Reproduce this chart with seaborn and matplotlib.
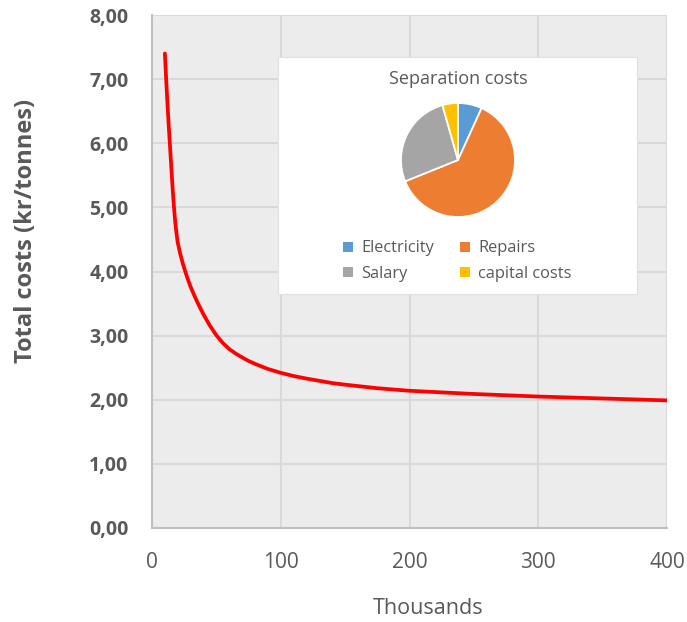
import matplotlib
matplotlib.use("Agg")
import matplotlib.pyplot as plt
from matplotlib.patches import Patch, Rectangle
import seaborn as sns
import pandas as pd

# Total cost per tonne versus throughput (thousands of tonnes)
throughput = [10, 11, 12, 13, 14, 15, 16, 17, 18, 19, 20, 22, 24, 26, 28, 30,
              33, 36, 40, 45, 50, 55, 60, 65, 70, 75, 80, 90, 100, 110, 120,
              130, 140, 150, 175, 200, 250, 300, 350, 400]
total_cost = [7.40, 7.00, 6.62, 6.27, 5.95, 5.62, 5.30, 5.02, 4.78, 4.60, 4.45,
              4.27, 4.12, 3.99, 3.87, 3.76, 3.62, 3.49, 3.33, 3.155, 3.005,
              2.885, 2.79, 2.72, 2.66, 2.605, 2.56, 2.48, 2.42, 2.37, 2.33,
              2.295, 2.26, 2.235, 2.18, 2.14, 2.09, 2.05, 2.02, 1.99]

# Breakdown of separation costs
cost_items = ["Electricity", "Repairs", "Salary", "capital costs"]
cost_shares = [6.8, 62.1, 26.7, 4.4]
item_colors = ["#5B9BD5", "#ED7D31", "#A5A5A5", "#FFC000"]

y_ticks = [0, 1, 2, 3, 4, 5, 6, 7, 8]
x_ticks = [0, 100, 200, 300, 400]

sns.set_theme(style="white")
plt.rcParams["font.family"] = ["Open Sans", "DejaVu Sans"]

TXT = "#595959"
W, H = 687, 622
fig = plt.figure(figsize=(W / 100, H / 100), dpi=100)
fig.patch.set_facecolor("white")

ax = fig.add_axes([152 / W, (H - 528) / H, 515 / W, 513 / H])
ax.set_facecolor("#ECECEC")

df = pd.DataFrame({"x": throughput, "y": total_cost})
sns.lineplot(data=df, x="x", y="y", ax=ax, color="#FF0000", linewidth=2.7,
             zorder=5, solid_joinstyle="round", solid_capstyle="round")

ax.set_xlim(0, 400)
ax.set_ylim(0, 8)
ax.set_xticks(x_ticks)
ax.set_yticks(y_ticks)
ax.set_xticklabels([str(v) for v in x_ticks], fontsize=15, color=TXT)
ax.set_yticklabels([f"{v:.2f}".replace(".", ",") for v in y_ticks],
                   fontsize=14, fontweight="bold", color=TXT)
ax.tick_params(axis="both", length=0)
ax.tick_params(axis="y", pad=17)
ax.tick_params(axis="x", pad=17)
ax.grid(True, color="#D9D9D9", linewidth=1.5)
ax.set_axisbelow(True)
for side in ["top", "right"]:
    ax.spines[side].set_visible(False)
for side in ["left", "bottom"]:
    ax.spines[side].set_color("#BFBFBF")
    ax.spines[side].set_linewidth(1.5)
ax.set_xlabel("")
ax.set_ylabel("")

fig.text(26 / W, 1 - 231 / H, "Total costs (kr/tonnes)", rotation=90,
         ha="center", va="center", fontsize=17, fontweight="bold", color=TXT)
fig.text(428 / W, 1 - 608 / H, "Thousands", ha="center", va="center",
         fontsize=15.5, color=TXT)

# Inset with the separation cost breakdown
box = Rectangle((278 / W, 1 - 294 / H), (637 - 278) / W, (294 - 57) / H,
                transform=fig.transFigure, facecolor="white",
                edgecolor="#E0E0E0", linewidth=0.8, zorder=10)
fig.patches.append(box)

r = 57
pax = fig.add_axes([(458 - r * 1.05) / W, 1 - (160 + r * 1.05) / H,
                    2 * r * 1.05 / W, 2 * r * 1.05 / H], zorder=11)
pax.pie(cost_shares, colors=item_colors, startangle=90, counterclock=False,
        wedgeprops=dict(edgecolor="white", linewidth=1.3))
pax.set_xlim(-1.05, 1.05)
pax.set_ylim(-1.05, 1.05)
pax.set_aspect("equal")
pax.axis("off")

fig.text(458 / W, 1 - 79 / H, "Separation costs", ha="center", va="center",
         fontsize=13, color=TXT, zorder=12)

handles = [Patch(facecolor=c, edgecolor="none", label=l)
           for l, c in zip(cost_items, item_colors)]
order = [0, 2, 1, 3]
leg = fig.legend([handles[i] for i in order], [cost_items[i] for i in order],
                 ncol=2, loc="center left",
                 bbox_to_anchor=(343 / W, 1 - 261 / H),
                 frameon=False, fontsize=11.8, handlelength=0.6,
                 handleheight=0.6, handletextpad=0.5, columnspacing=1.6,
                 labelspacing=0.55, borderpad=0, borderaxespad=0)
for t in leg.get_texts():
    t.set_color(TXT)
leg.set_zorder(12)

fig.savefig("out.png", dpi=100, facecolor="white")
